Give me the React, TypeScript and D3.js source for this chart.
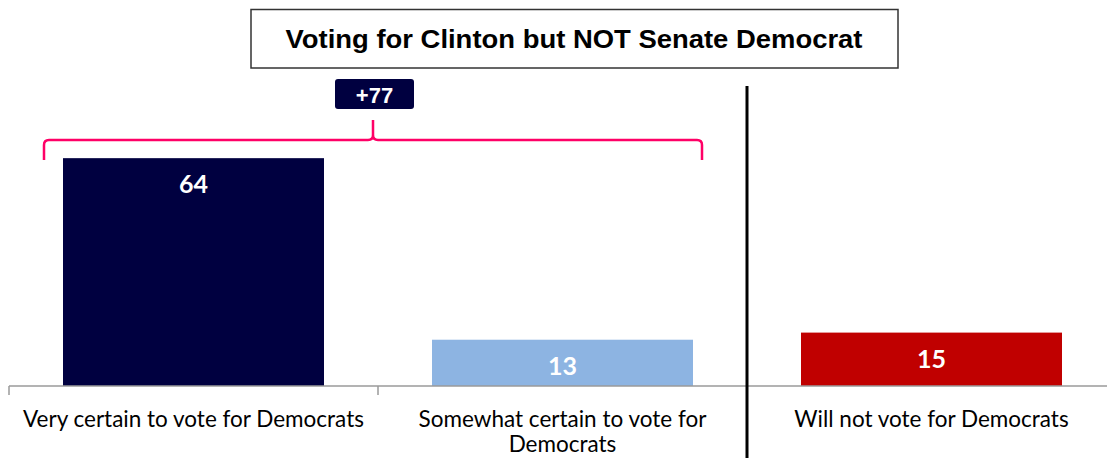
import React from "react";
import * as d3 from "d3";

const categories = [
  "Very certain to vote for Democrats",
  "Somewhat certain to vote for Democrats",
  "Will not vote for Democrats",
];
const labelLines = [
  ["Very certain to vote for Democrats"],
  ["Somewhat certain to vote for", "Democrats"],
  ["Will not vote for Democrats"],
];
const values = [64, 13, 15];
const colors = ["#000040", "#8DB4E2", "#C00000"];
const title = "Voting for Clinton but NOT Senate Democrat";
const bracketLabel = "+77";

const W = 1107;
const H = 458;

export default function App() {
  const baseline = 386;
  const x = d3
    .scaleBand<string>()
    .domain(categories)
    .range([9, 1116])
    .paddingInner(0.2927)
    .paddingOuter(0.14635);
  const y = d3.scaleLinear().domain([0, 80]).range([baseline, baseline - 80 * 3.56]);
  const step = x.step();
  const bw = x.bandwidth();
  const tickXs = categories.map((c) => (x(c) as number) - (step - bw) / 2);

  // bracket spanning first two categories
  const bL = 44;
  const bR = 702;
  const bY = 140;
  const bBottom = 160;
  const tipX = 373;
  const tipY = 120;
  const r = 5;
  const brace = d3.path();
  brace.moveTo(bL, bBottom);
  brace.lineTo(bL, bY + r);
  brace.quadraticCurveTo(bL, bY, bL + r, bY);
  brace.lineTo(tipX - r, bY);
  brace.quadraticCurveTo(tipX, bY, tipX, bY - r);
  brace.lineTo(tipX, tipY);
  brace.moveTo(tipX, bY - r);
  brace.quadraticCurveTo(tipX, bY, tipX + r, bY);
  brace.lineTo(bR - r, bY);
  brace.quadraticCurveTo(bR, bY, bR, bY + r);
  brace.lineTo(bR, bBottom);

  const labelFont = "Lato, 'Open Sans', sans-serif";

  return (
    <>
      <style>{`body{margin:0}`}</style>
      <svg width={W} height={H} style={{ display: "block", background: "#fff" }}>
        {/* title box */}
        <rect x={251} y={9.5} width={647} height={58.5} fill="#fff" stroke="#333" strokeWidth={1.5} />
        <text
          x={574}
          y={48}
          textAnchor="middle"
          fontFamily="'Liberation Sans', Arial, sans-serif"
          fontWeight="bold"
          fontSize={26}
          textLength={577}
          lengthAdjust="spacingAndGlyphs"
          fill="#000"
        >
          {title}
        </text>

        {/* bars */}
        {categories.map((c, i) => (
          <g key={c}>
            <rect
              x={x(c)}
              y={y(values[i])}
              width={bw}
              height={baseline - y(values[i])}
              fill={colors[i]}
            />
            <text
              x={(x(c) as number) + bw / 2}
              y={y(values[i]) + 35}
              textAnchor="middle"
              fontFamily={labelFont}
              fontWeight="bold"
              fontSize={25}
              fill="#fff"
            >
              {values[i]}
            </text>
          </g>
        ))}

        {/* axis */}
        <line x1={9} x2={W} y1={baseline} y2={baseline} stroke="#9a9a9a" strokeWidth={1.5} />
        {tickXs.map((tx, i) => (
          <line key={i} x1={tx} x2={tx} y1={baseline} y2={baseline + 9} stroke="#9a9a9a" strokeWidth={1.5} />
        ))}

        {/* category labels */}
        {categories.map((c, i) => (
          <text
            key={c}
            x={(x(c) as number) + bw / 2}
            y={427}
            textAnchor="middle"
            fontFamily={labelFont}
            fontSize={22.5}
            fill="#000"
          >
            {labelLines[i].map((ln, j) => (
              <tspan key={j} x={(x(c) as number) + bw / 2} dy={j === 0 ? 0 : 25}>
                {ln}
              </tspan>
            ))}
          </text>
        ))}

        {/* separator */}
        <line x1={tickXs[2]} x2={tickXs[2]} y1={86} y2={H} stroke="#000" strokeWidth={3} />

        {/* bracket */}
        <path d={brace.toString()} fill="none" stroke="#FF0066" strokeWidth={2.5} />
        <rect x={335} y={79} width={79} height={30} rx={3} fill="#000040" />
        <text
          x={374.5}
          y={103}
          textAnchor="middle"
          fontFamily="'Liberation Sans', Arial, sans-serif"
          fontWeight="bold"
          fontSize={22}
          fill="#fff"
        >
          {bracketLabel}
        </text>
      </svg>
    </>
  );
}
